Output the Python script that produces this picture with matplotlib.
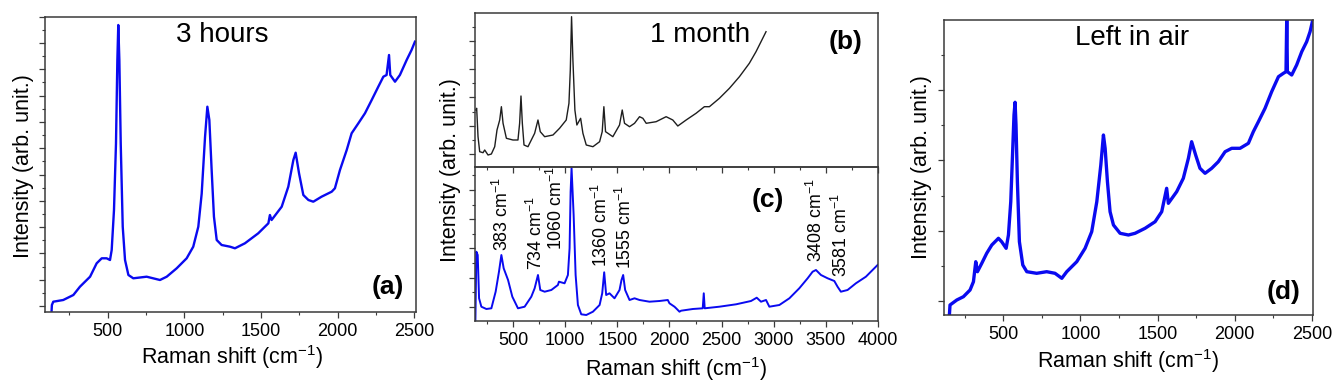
import matplotlib
matplotlib.use("Agg")
import matplotlib.pyplot as plt
from matplotlib.ticker import FixedLocator, MultipleLocator, NullFormatter
import numpy as np

plt.rcParams['font.family'] = ['Liberation Sans', 'DejaVu Sans']
plt.rcParams['mathtext.fontset'] = 'custom'
plt.rcParams['mathtext.rm'] = 'Liberation Sans'
plt.rcParams['mathtext.it'] = 'Liberation Sans:italic'
plt.rcParams['mathtext.bf'] = 'Liberation Sans:bold'

# ---------------- data (Raman shift in cm-1, intensity in arb. units) -------------
a_shift = [134, 136, 145, 210, 276, 319, 385, 428, 461, 493, 515, 526, 541, 554, 563, 569,
           576, 585, 598, 613, 635, 667, 754, 841, 885, 950, 1015, 1058, 1091, 1113, 1135,
           1150, 1163, 1178, 1193, 1211, 1243, 1298, 1330, 1395, 1482, 1548, 1558, 1569,
           1635, 1678, 1711, 1726, 1748, 1776, 1809, 1841, 1895, 1961, 1982, 2015, 2059,
           2091, 2135, 2178, 2222, 2265, 2298, 2319, 2335, 2343, 2374, 2406, 2450, 2482, 2504]
a_int = [1, 6.7, 10, 11.7, 16.7, 25, 35, 48.4, 53.4, 53.4, 51.7, 61.7, 101.7, 168, 251.7, 286.7,
         251.7, 168, 85, 51.7, 36.7, 33.4, 35, 31.7, 35, 43.4, 53.4, 65, 85, 118, 175,
         205, 191.7, 141.7, 95, 71.7, 66.7, 65, 63.4, 68.4, 78.4, 88.4, 96.7, 91.7,
         105, 125, 151.7, 159, 138.4, 116.7, 111.7, 110, 115, 120, 123.4, 141.7, 161.7,
         178.4, 188.4, 198.4, 211.7, 225, 235, 236.7, 256.7, 236.7, 230, 236.7, 251.7, 261.7, 270]

b_shift = [142, 151, 164, 180, 212, 228, 260, 292, 324, 346, 372, 388, 404, 436, 499, 547,
           563, 576, 589, 605, 643, 707, 739, 761, 803, 883, 946, 1010, 1036, 1049, 1061,
           1074, 1093, 1112, 1148, 1170, 1202, 1266, 1330, 1355, 1371, 1387, 1410, 1457,
           1521, 1547, 1569, 1617, 1665, 1713, 1745, 1777, 1872, 1968, 2032, 2080, 2160,
           2255, 2335, 2383, 2479, 2575, 2671, 2766, 2830, 2878, 2926]
b_int = [56.7, 58.4, 30, 15, 14, 16.7, 11.7, 12.7, 20, 36.7, 46.7, 60, 43.4, 28.4, 26.7, 26.7,
         43.4, 70.7, 43.4, 21.7, 20, 33.4, 46.7, 35, 30, 31.7, 38.4, 46.7, 63.4, 96.7, 150,
         106.7, 56.7, 41.7, 48.4, 33.4, 21.7, 20, 25, 35, 60, 35, 33.4, 30,
         41.7, 56.7, 43.4, 40, 43.4, 50, 48.4, 43.4, 45, 50, 46.7, 40.7, 46.7,
         53.4, 60, 60, 68.4, 78.4, 90, 103.4, 115, 125, 135]

c_shift = [139, 148, 161, 174, 196, 244, 292, 333, 365, 388, 410, 452, 493, 547, 611, 675,
           707, 739, 761, 803, 867, 930, 940, 994, 1026, 1042, 1052, 1061, 1081, 1100, 1122,
           1154, 1202, 1266, 1330, 1355, 1374, 1393, 1425, 1473, 1521, 1540, 1556, 1575,
           1617, 1665, 1713, 1808, 1904, 1984, 2000, 2048, 2064, 2096, 2112, 2224, 2319,
           2329, 2338, 2479, 2639, 2782, 2837, 2878, 2926, 2958, 3054, 3150, 3245, 3325,
           3373, 3405, 3453, 3517, 3581, 3612, 3644, 3708, 3788, 3884, 3948, 3996]
c_int = [1, 69.3, 66, 22.7, 14.3, 12, 12.7, 29.3, 49.3, 66, 52.7, 41, 24.3, 12.7, 14.3, 24.3,
         32.7, 46, 31, 29.3, 31, 36, 39.3, 37.7, 46, 72.7, 129.3, 153, 106, 46, 16,
         6.7, 6, 9.3, 16, 27.7, 48.7, 26, 27.7, 22.7, 31, 41, 46, 31,
         21, 22.7, 21, 19.3, 20, 21, 17.7, 14.3, 12.7, 9.3, 10.3, 12, 12.7,
         27.7, 12.7, 14.3, 16.7, 20, 23.3, 19.3, 21, 14.3, 16, 22.7, 32.7, 42.7,
         49.3, 51, 46, 42.7, 40, 34.3, 29.3, 31, 37.7, 44.3, 51, 56]

c_peaks = ['383', '734', '1060', '1360', '1555', '3408', '3581']

d_shift = [150, 154, 198, 241, 284, 306, 321, 332, 360, 392, 425, 468, 489, 518, 533, 548,
           561, 569, 576, 582, 591, 604, 626, 652, 716, 781, 835, 879, 911, 976, 1030, 1073,
           1106, 1132, 1149, 1160, 1175, 1192, 1214, 1257, 1311, 1354, 1419, 1484, 1527,
           1559, 1570, 1624, 1667, 1700, 1721, 1747, 1775, 1808, 1851, 1894, 1938, 1981,
           2035, 2089, 2121, 2154, 2197, 2240, 2284, 2316, 2333, 2338, 2342, 2370, 2402,
           2435, 2467, 2489, 2504]
d_int = [0, 10, 15, 18.3, 25, 33.3, 53.3, 43.3, 51.7, 61.7, 70, 76.7, 73.3, 66.7, 80, 113.3,
         166.7, 200, 212.7, 190, 133.3, 73.3, 50, 43.3, 41.7, 43.3, 41.7, 36.7, 43.3, 53.3, 66.7, 83.3,
         113.3, 150, 180, 166.7, 133.3, 103.3, 90, 81.7, 80, 81.7, 86.7, 93.3, 103.3,
         126.7, 111.7, 123.3, 136.7, 156.7, 173.3, 160, 146.7, 141.7, 146.7, 153.3, 163.3, 166.7,
         166.7, 171.7, 183.3, 193.3, 206.7, 223.3, 238.3, 241.7, 243.3, 300, 243.3, 240, 250,
         263.3, 273.3, 283.3, 293.3]

titles = ['3 hours', '1 month', 'Left in air']
panel_tags = ['(a)', '(b)', '(c)', '(d)']
xlabel = 'Raman shift (cm$^{\\mathregular{-1}}$)'
ylabel = 'Intensity (arb. unit.)'

# ---------------- figure ----------------
W, H = 1341, 388
fig = plt.figure(figsize=(W / 100, H / 100), dpi=100)


def rect(l, t, r, b):
    return [l / W, 1 - b / H, (r - l) / W, (b - t) / H]


ax_a = fig.add_axes(rect(45, 16.7, 415.7, 311.7))
ax_b = fig.add_axes(rect(475, 13.3, 878, 166.7))
ax_c = fig.add_axes(rect(475, 166.7, 878, 321))
ax_d = fig.add_axes(rect(944.3, 20, 1313.3, 315))

blue = '#0a0af0'
spine_col = '#3a3a3a'
tick_fs = 13
lab_fs = 15.5


def style(ax, yticks_start, ystep, ytop, xlabels=True):
    for s in ax.spines.values():
        s.set_color(spine_col)
        s.set_linewidth(1.1)
    ax.xaxis.set_major_locator(MultipleLocator(500))
    ax.xaxis.set_minor_locator(MultipleLocator(250))
    ax.yaxis.set_major_locator(FixedLocator(np.arange(yticks_start, ytop, ystep)))
    ax.yaxis.set_minor_locator(FixedLocator(np.arange(yticks_start + ystep / 2, ytop, ystep)))
    ax.yaxis.set_major_formatter(NullFormatter())
    ax.tick_params(axis='both', which='major', direction='out', length=4.5, width=0.9,
                   color=spine_col, labelsize=tick_fs, pad=3.5)
    ax.tick_params(axis='both', which='minor', direction='out', length=2.5, width=0.8,
                   color=spine_col)
    ax.tick_params(axis='both', top=False, right=False, which='both')
    if not xlabels:
        ax.xaxis.set_major_formatter(NullFormatter())


# (a)
ax_a.plot(a_shift, a_int, color=blue, lw=1.7)
ax_a.set_xlim(91, 2509)
ax_a.set_ylim(0, 295)
style(ax_a, 5.7, 26.3, 296)
ax_a.text(1249, 276.7, titles[0], fontsize=20, ha='center', va='center')
ax_a.text(2330, 25, panel_tags[0], fontsize=19, fontweight='bold', ha='center', va='center')

# (b)
ax_b.plot(b_shift, b_int, color='#1e1e1e', lw=1.0)
ax_b.set_xlim(135, 4000)
ax_b.set_ylim(0, 153.4)
style(ax_b, 12.7, 28.33, 154, xlabels=False)
ax_b.set_zorder(3)
ax_b.patch.set_alpha(0)
ax_b.text(2289, 131.7, titles[1], fontsize=20, ha='center', va='center')
ax_b.text(3692, 125, panel_tags[1], fontsize=19, fontweight='bold', ha='center', va='center')

# (c)
ax_c.plot(c_shift, c_int, color=blue, lw=1.4)
ax_c.set_xlim(135, 4000)
ax_c.set_ylim(0, 154.3)
style(ax_c, 14.3, 29.2, 155)
ax_c.text(2942, 121, panel_tags[2], fontsize=19, fontweight='bold', ha='center', va='center')
label_pos = [(390, 70), (715, 51), (911, 71), (1346, 54), (1572, 52), (3405, 59), (3644, 44)]
for name, (px, py) in zip(c_peaks, label_pos):
    ax_c.text(px, py, name + ' cm$^{\\mathregular{-1}}$', rotation=90, fontsize=12.8,
              ha='center', va='bottom')

# (d)
ax_d.plot(d_shift, d_int, color=blue, lw=2.4)
ax_d.set_xlim(117, 2510)
ax_d.set_ylim(0, 295)
style(ax_d, 14, 70.3, 296)
ax_d.text(1335, 276.7, titles[2], fontsize=20, ha='center', va='center')
ax_d.text(2314, 23.3, panel_tags[3], fontsize=19, fontweight='bold', ha='center', va='center')

# axis labels
fig.text(232.5 / W, 1 - 357 / H, xlabel, fontsize=lab_fs, ha='center', va='center')
fig.text(676 / W, 1 - 369 / H, xlabel, fontsize=lab_fs, ha='center', va='center')
fig.text(1128.5 / W, 1 - 361 / H, xlabel, fontsize=lab_fs, ha='center', va='center')
fig.text(24 / W, 1 - 166 / H, ylabel, fontsize=lab_fs, rotation=90, ha='center', va='center')
fig.text(450.5 / W, 1 - 170 / H, ylabel, fontsize=lab_fs, rotation=90, ha='center', va='center')
fig.text(921 / W, 1 - 167.5 / H, ylabel, fontsize=lab_fs, rotation=90, ha='center', va='center')

fig.savefig('out.png', dpi=100)
